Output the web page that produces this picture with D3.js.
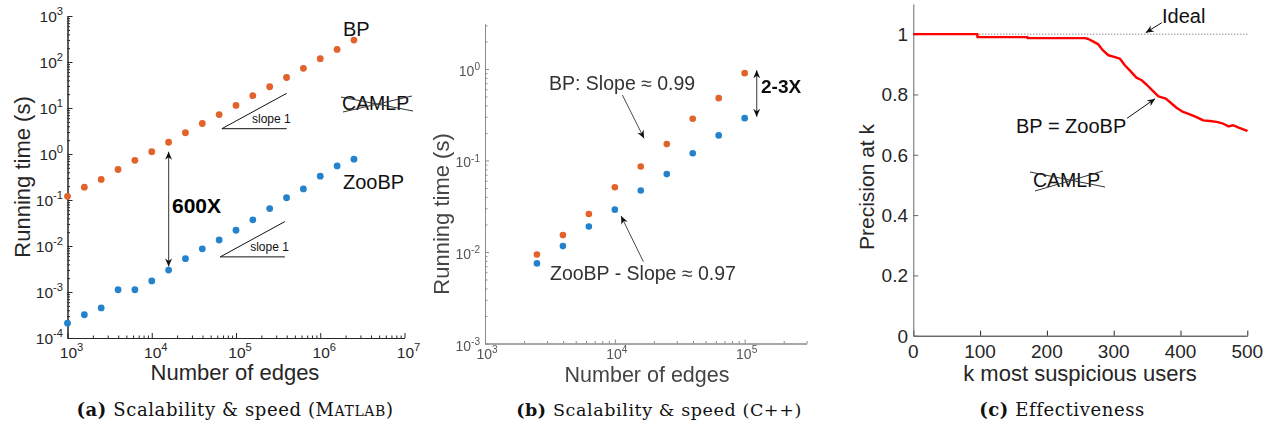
<!DOCTYPE html>
<html>
<head>
<meta charset="utf-8">
<script src="https://cdn.jsdelivr.net/npm/d3@7"></script>
<style>
  body { margin: 0; background: #fff; }
  text { font-family: "Liberation Sans", Arial, Helvetica, sans-serif; }
  .cap { font-family: "DejaVu Serif", "Liberation Serif", serif; letter-spacing: 0.6px; }
</style>
</head>
<body>
<script>
// ---- data ----
// (a) MATLAB, running time vs number of edges
var edgesA = [1000, 1585, 2512, 3981, 6310, 10000, 15849, 25119, 39811, 63096,
              100000, 158489, 251189, 398107, 630957, 1000000, 1584893, 2511886];
var bpA = [0.12, 0.19, 0.28, 0.46, 0.73, 1.12, 1.8, 2.9, 4.6, 7.2,
           11.4, 18.5, 29, 46, 73, 118, 188, 300];
var zooA = [2.1e-4, 3.2e-4, 4.5e-4, 1.12e-3, 1.12e-3, 1.74e-3, 3.0e-3, 5.3e-3, 8.7e-3, 0.0135,
            0.022, 0.037, 0.065, 0.112, 0.174, 0.33, 0.55, 0.77];
var xTicksA = [1e3, 1e4, 1e5, 1e6, 1e7];
var yTicksA = [1e-4, 1e-3, 1e-2, 1e-1, 1e0, 1e1, 1e2, 1e3];

// (b) C++
var edgesB = [2512, 3981, 6310, 10000, 15849, 25119, 39811, 63096, 100000];
var bpB = [0.0094, 0.0153, 0.026, 0.051, 0.086, 0.151, 0.286, 0.48, 0.90];
var zooB = [0.0075, 0.0116, 0.019, 0.029, 0.047, 0.071, 0.12, 0.188, 0.29];
var xTicksB = [1e3, 1e4, 1e5];
var yTicksB = [1e-3, 1e-2, 1e-1, 1e0];

// (c) precision at k
var kC = [0, 96, 96, 171, 171, 257, 262, 269, 277, 284, 292, 302, 309, 317, 324, 334, 342,
          349, 359, 367, 378, 384, 394, 404, 414, 424, 434, 444, 454, 464, 472, 479, 487, 499, 500];
var precC = [1.0, 1.0, 0.99, 0.99, 0.987, 0.987, 0.984, 0.976, 0.966, 0.946, 0.93, 0.924, 0.919,
             0.896, 0.88, 0.856, 0.847, 0.833, 0.811, 0.794, 0.786, 0.775, 0.756, 0.742, 0.734,
             0.725, 0.714, 0.712, 0.709, 0.703, 0.694, 0.698, 0.69, 0.68, 0.678];
var xTicksC = [0, 100, 200, 300, 400, 500];
var yTicksC = [0, 0.2, 0.4, 0.6, 0.8, 1];

var orange = "#e2622c", blue = "#2483cc";

var svg = d3.select("body").append("svg")
    .attr("width", 1271)
    .attr("height", 428);

var defs = svg.append("defs");
function arrowMarker(id, color) {
    defs.append("marker")
        .attr("id", id)
        .attr("viewBox", "-9 -5 10 10")
        .attr("refX", 0).attr("refY", 0)
        .attr("markerWidth", 10).attr("markerHeight", 10)
        .attr("markerUnits", "userSpaceOnUse")
        .attr("orient", "auto-start-reverse")
        .append("path")
        .attr("d", "M0,0 L-8,-3.5 L-5.5,0 L-8,3.5 Z")
        .attr("fill", color);
}
arrowMarker("arr", "#111");
defs.append("filter").attr("id", "soft")
    .append("feGaussianBlur").attr("stdDeviation", 0.35);

// superscript tick label "10^e"
function powLabel(g, x, y, v, size, anchor, color) {
    var e = Math.round(Math.log10(v));
    var t = g.append("text").attr("x", x).attr("y", y)
        .attr("text-anchor", anchor).attr("fill", color).style("font-size", size + "px");
    t.append("tspan").text("10");
    t.append("tspan").attr("dy", -size * 0.42).style("font-size", (size * 0.72) + "px").text(e);
}

function styleAxis(g, color) {
    g.selectAll("path.domain").attr("stroke", color);
    g.selectAll(".tick line").attr("stroke", color);
}

// ================= (a) =================
var xA = d3.scaleLog().domain([1e3, 1e7]).range([67.5, 404.5]);
var yA = d3.scaleLog().domain([1e-4, 1e3]).range([338, 16]);
var gA = svg.append("g");

var minorXA = xA.ticks().filter(function (d) { return xTicksA.indexOf(d) < 0; });
var minorYA = yA.ticks().filter(function (d) { return yTicksA.indexOf(d) < 0; });

[[xTicksA, -5], [minorXA, -2.5]].forEach(function (p) {
    var ax = gA.append("g").attr("transform", "translate(0,338)")
        .call(d3.axisBottom(xA).tickValues(p[0]).tickSize(p[1]).tickSizeOuter(0).tickFormat(""));
    styleAxis(ax, "#262626");
});
[[yTicksA, -5], [minorYA, -2.5]].forEach(function (p) {
    var ax = gA.append("g").attr("transform", "translate(67.5,0)")
        .call(d3.axisLeft(yA).tickValues(p[0]).tickSize(p[1]).tickSizeOuter(0).tickFormat(""));
    styleAxis(ax, "#262626");
});
xTicksA.forEach(function (v) { powLabel(gA, xA(v) + 4, 358, v, 15.5, "middle", "#262626"); });
yTicksA.forEach(function (v) { powLabel(gA, 63, yA(v) + 5.5, v, 15.5, "end", "#262626"); });

gA.append("text").attr("x", 235).attr("y", 380).attr("text-anchor", "middle")
    .attr("fill", "#262626").style("font-size", "22px").text("Number of edges");
gA.append("text").attr("transform", "translate(30,177) rotate(-90)").attr("text-anchor", "middle")
    .attr("fill", "#262626").style("font-size", "22px").text("Running time (s)");

gA.append("g").selectAll("circle.bp").data(edgesA).enter().append("circle")
    .attr("cx", function (d) { return xA(d); })
    .attr("cy", function (d, i) { return yA(bpA[i]); })
    .attr("r", 3.4).style("fill", orange);
gA.append("g").selectAll("circle.zoo").data(edgesA).enter().append("circle")
    .attr("cx", function (d) { return xA(d); })
    .attr("cy", function (d, i) { return yA(zooA[i]); })
    .attr("r", 3.4).style("fill", blue);

// slope-1 triangles
[[68000, 3.55, 400000], [65000, 0.0058, 380000]].forEach(function (t) {
    var x0 = xA(t[0]), y0 = yA(t[1]), x1 = xA(t[2]), y1 = yA(t[1] * t[2] / t[0]);
    gA.append("path").attr("d", "M" + x1 + "," + y1 + "L" + x0 + "," + y0 + "L" + x1 + "," + y0)
        .attr("fill", "none").attr("stroke", "#111").attr("stroke-width", 1);
    gA.append("text").attr("x", x1 + 4).attr("y", y0 - 6).attr("text-anchor", "end")
        .attr("fill", "#111").style("font-size", "12px").text("slope 1");
});

// 600X double arrow
gA.append("line").attr("x1", xA(15849)).attr("x2", xA(15849))
    .attr("y1", yA(1.12)).attr("y2", yA(0.0036))
    .attr("stroke", "#555").attr("stroke-width", 1.2)
    .attr("marker-start", "url(#arr)").attr("marker-end", "url(#arr)");
gA.append("text").attr("x", 172).attr("y", 213).attr("fill", "#000")
    .style("font-size", "21px").style("font-weight", "bold").text("600X");

gA.append("text").attr("x", 343).attr("y", 36).attr("fill", "#111").style("font-size", "20px").text("BP");
gA.append("text").attr("x", 343).attr("y", 189).attr("fill", "#111").style("font-size", "20px").text("ZooBP");
gA.append("text").attr("x", 342).attr("y", 110).attr("fill", "#111").style("font-size", "19.5px").text("CAMLP");
gA.append("line").attr("x1", 341).attr("y1", 97).attr("x2", 413).attr("y2", 111).attr("stroke", "#333");
gA.append("line").attr("x1", 343).attr("y1", 112).attr("x2", 412).attr("y2", 96).attr("stroke", "#333");

var capA = gA.append("text").attr("class", "cap").attr("x", 235).attr("y", 416)
    .attr("text-anchor", "middle").attr("fill", "#111").style("font-size", "18px");
capA.append("tspan").style("font-weight", "bold").text("(a)");
capA.append("tspan").text(" Scalability & speed (M");
capA.append("tspan").style("font-size", "14px").text("ATLAB");
capA.append("tspan").text(")");

// ================= (b) =================
var xB = d3.scaleLog().domain([1e3, 3e5]).range([485, 806.6]);
var yB = d3.scaleLog().domain([1e-3, 3.1]).range([343.5, 24]);
var gB = svg.append("g").attr("filter", "url(#soft)");

var minorXB = xB.ticks().filter(function (d) { return xTicksB.indexOf(d) < 0; });
var minorYB = yB.ticks().filter(function (d) { return yTicksB.indexOf(d) < 0; });
[[xTicksB, -4], [minorXB, -2.5]].forEach(function (p) {
    var ax = gB.append("g").attr("transform", "translate(0,343.5)")
        .call(d3.axisBottom(xB).tickValues(p[0]).tickSize(p[1]).tickSizeOuter(0).tickFormat(""));
    styleAxis(ax, "#8a8a8a");
});
[[yTicksB, -4], [minorYB, -2.5]].forEach(function (p) {
    var ax = gB.append("g").attr("transform", "translate(485,0)")
        .call(d3.axisLeft(yB).tickValues(p[0]).tickSize(p[1]).tickSizeOuter(0).tickFormat(""));
    styleAxis(ax, "#8a8a8a");
});
xTicksB.forEach(function (v) { powLabel(gB, xB(v) + 2, 359, v, 14, "middle", "#555"); });
yTicksB.forEach(function (v) { powLabel(gB, 480, yB(v) + 7, v, 14, "end", "#555"); });

gB.append("text").attr("x", 647).attr("y", 382).attr("text-anchor", "middle")
    .attr("fill", "#444").style("font-size", "21.5px").text("Number of edges");
gB.append("text").attr("transform", "translate(449,214) rotate(-90)").attr("text-anchor", "middle")
    .attr("fill", "#444").style("font-size", "22px").text("Running time (s)");

gB.append("g").selectAll("circle.bp").data(edgesB).enter().append("circle")
    .attr("cx", function (d) { return xB(d); })
    .attr("cy", function (d, i) { return yB(bpB[i]); })
    .attr("r", 3.3).style("fill", orange);
gB.append("g").selectAll("circle.zoo").data(edgesB).enter().append("circle")
    .attr("cx", function (d) { return xB(d); })
    .attr("cy", function (d, i) { return yB(zooB[i]); })
    .attr("r", 3.3).style("fill", blue);

gB.append("text").attr("x", 549).attr("y", 90).attr("fill", "#333").style("font-size", "19.5px").text("BP: Slope \u2248 0.99");
gB.append("line").attr("x1", xB(11430)).attr("y1", yB(0.519)).attr("x2", xB(16790)).attr("y2", yB(0.1746))
    .attr("stroke", "#333").attr("stroke-width", 0.9).attr("marker-end", "url(#arr)");
gB.append("text").attr("x", 550).attr("y", 280).attr("fill", "#333").style("font-size", "19.5px").text("ZooBP - Slope \u2248 0.97");
gB.append("line").attr("x1", xB(16600)).attr("y1", yB(0.00783)).attr("x2", xB(11170)).attr("y2", yB(0.0247))
    .attr("stroke", "#333").attr("stroke-width", 0.9).attr("marker-end", "url(#arr)");
gB.append("line").attr("x1", 756.7).attr("x2", 756.7).attr("y1", yB(0.97)).attr("y2", yB(0.30))
    .attr("stroke", "#555").attr("stroke-width", 1.2)
    .attr("marker-start", "url(#arr)").attr("marker-end", "url(#arr)");
gB.append("text").attr("x", 761).attr("y", 93).attr("fill", "#111")
    .style("font-size", "19px").style("font-weight", "bold").text("2-3X");

var capB = svg.append("text").attr("class", "cap").attr("x", 659).attr("y", 416)
    .attr("text-anchor", "middle").attr("fill", "#111").style("font-size", "17.5px");
capB.append("tspan").style("font-weight", "bold").text("(b)");
capB.append("tspan").text(" Scalability & speed (C++)");

// ================= (c) =================
var xC = d3.scaleLinear().domain([0, 500]).range([913.3, 1247.3]);
var yC = d3.scaleLinear().domain([0, 1.1]).range([335.7, 4]);
var gC = svg.append("g");

var axXC = gC.append("g").attr("transform", "translate(0,335.7)")
    .call(d3.axisBottom(xC).tickValues(xTicksC).tickSize(-5).tickSizeOuter(0).tickFormat(""));
styleAxis(axXC, "#262626");
var axYC = gC.append("g").attr("transform", "translate(913.3,0)")
    .call(d3.axisLeft(yC).tickValues(yTicksC).tickSize(-5).tickSizeOuter(0).tickFormat(""));
styleAxis(axYC, "#6a6a6a");

xTicksC.forEach(function (v) {
    gC.append("text").attr("x", xC(v)).attr("y", 358).attr("text-anchor", "middle")
        .attr("fill", "#262626").style("font-size", "19px").text(v);
});
yTicksC.forEach(function (v) {
    gC.append("text").attr("x", 908).attr("y", yC(v) + 7).attr("text-anchor", "end")
        .attr("fill", "#262626").style("font-size", "19px").text(v);
});

gC.append("text").attr("x", 1080).attr("y", 381).attr("text-anchor", "middle")
    .attr("fill", "#262626").style("font-size", "22px").text("k most suspicious users");
gC.append("text").attr("transform", "translate(874,187) rotate(-90)").attr("text-anchor", "middle")
    .attr("fill", "#262626").style("font-size", "21px").text("Precision at k");

gC.append("line").attr("x1", xC(0)).attr("x2", xC(500)).attr("y1", yC(1)).attr("y2", yC(1))
    .attr("stroke", "#555").attr("stroke-width", 1).attr("stroke-dasharray", "1,2");

var line = d3.line()
    .x(function (d) { return xC(d); })
    .y(function (d, i) { return yC(precC[i]); });
gC.append("path").datum(kC).attr("d", line)
    .attr("fill", "none").attr("stroke", "#ff0000").attr("stroke-width", 2.4)
    .attr("stroke-linejoin", "round");

gC.append("text").attr("x", 1162).attr("y", 23).attr("fill", "#111").style("font-size", "20px").text("Ideal");
gC.append("line").attr("x1", xC(372)).attr("y1", yC(1.038)).attr("x2", xC(348)).attr("y2", yC(1.005))
    .attr("stroke", "#111").attr("stroke-width", 1).attr("marker-end", "url(#arr)");
gC.append("text").attr("x", 1016).attr("y", 133).attr("fill", "#111").style("font-size", "20px").text("BP = ZooBP");
gC.append("line").attr("x1", xC(320)).attr("y1", yC(0.721)).attr("x2", xC(362)).attr("y2", yC(0.786))
    .attr("stroke", "#111").attr("stroke-width", 1).attr("marker-end", "url(#arr)");
gC.append("text").attr("x", 1033).attr("y", 187).attr("fill", "#111").style("font-size", "19.5px").text("CAMLP");
gC.append("line").attr("x1", 1030).attr("y1", 172).attr("x2", 1105).attr("y2", 187).attr("stroke", "#333");
gC.append("line").attr("x1", 1035).attr("y1", 191).attr("x2", 1103).attr("y2", 171).attr("stroke", "#333");

var capC = gC.append("text").attr("class", "cap").attr("x", 1062).attr("y", 416)
    .attr("text-anchor", "middle").attr("fill", "#111").style("font-size", "18px");
capC.append("tspan").style("font-weight", "bold").text("(c)");
capC.append("tspan").text(" Effectiveness");
</script>
</body>
</html>
